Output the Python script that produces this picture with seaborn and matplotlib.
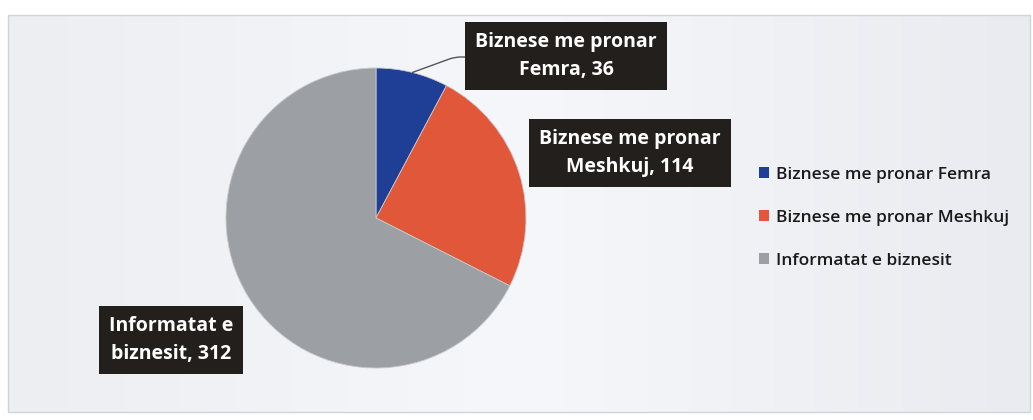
import numpy as np
import matplotlib
matplotlib.use("Agg")
import matplotlib.pyplot as plt
from matplotlib.patches import Rectangle, Patch
import seaborn as sns

categories = ["Biznese me pronar Femra", "Biznese me pronar Meshkuj", "Informatat e biznesit"]
values = [36, 114, 312]
box_labels = ["Biznese me pronar\nFemra, 36", "Biznese me pronar\nMeshkuj, 114", "Informatat e\nbiznesit, 312"]
colors = ["#1f3f96", "#e0573a", "#9c9fa4"]

sns.set_theme(style="white")
plt.rcParams['font.family'] = ['Open Sans', 'DejaVu Sans']

W, H = 1033, 420
fig = plt.figure(figsize=(W / 100, H / 100), dpi=100, facecolor="white")

# chart area background
bg = fig.add_axes([0, 0, 1, 1], zorder=0)
bg.set_xlim(0, W); bg.set_ylim(H, 0); bg.axis("off")
grad = np.linspace(0, 1, 256)
img = np.outer(np.ones(64), grad)
bg.imshow(img, extent=(8, 1030, 412, 15), cmap=matplotlib.colors.LinearSegmentedColormap.from_list(
    "g", ["#eceef2", "#f6f7fa", "#e9ebf0"]), aspect="auto", zorder=0)
bg.add_patch(Rectangle((8, 15), 1022, 397, fill=False, edgecolor="#d0d3d8", lw=1, zorder=1))

cx, cy, r = 376, 218, 150
ax = fig.add_axes([(cx - r) / W, (H - cy - r) / H, 2 * r / W, 2 * r / H], zorder=2)
wedges, _ = ax.pie(values, colors=colors, startangle=90, counterclock=False, radius=1,
                   wedgeprops=dict(linewidth=0.6, edgecolor="#c8c8c8"))
ax.set_xlim(-1, 1); ax.set_ylim(-1, 1); ax.set_aspect("equal")
ax.axis("off")

def fig_xy(px, py):
    return px / W, (H - py) / H

box = dict(boxstyle="square,pad=0.5", facecolor="#231f1c", edgecolor="none")
tk = dict(color="white", fontsize=14, fontweight="bold", ha="center", va="center",
          linespacing=1.55, zorder=5)

# Femra leader line: from slice edge to the left middle of its label box
theta = np.deg2rad(90 - 360 * values[0] / sum(values) / 2)
ex, ey = np.cos(theta), np.sin(theta)
ax.annotate("", xy=(ex, ey), xycoords="data", xytext=fig_xy(466, 57), textcoords="figure fraction",
            arrowprops=dict(arrowstyle="-", color="#555555", lw=1, shrinkA=0, shrinkB=0,
                            connectionstyle="angle,angleA=180,angleB=20,rad=6"),
            annotation_clip=False)
fx, fy = fig_xy(566, 56)
fig.text(fx, fy, box_labels[0], bbox=box, **tk)
x2, y2 = fig_xy(630, 153)
fig.text(x2, y2, box_labels[1], bbox=box, **tk)
x3, y3 = fig_xy(171, 340)
fig.text(x3, y3, box_labels[2], bbox=box, **tk)

handles = [Patch(facecolor=c, edgecolor="none") for c in colors]
lx, ly = fig_xy(752, 160)
leg = fig.legend(handles, categories, loc="upper left", bbox_to_anchor=(lx, ly), frameon=False,
                 fontsize=12.5, handlelength=0.6, handleheight=0.6, handletextpad=0.4,
                 labelspacing=1.55, borderaxespad=0)
for t in leg.get_texts():
    t.set_color("#1a1a1a")
    t.set_fontweight("semibold")

fig.savefig("out.png", dpi=100, facecolor=fig.get_facecolor())
